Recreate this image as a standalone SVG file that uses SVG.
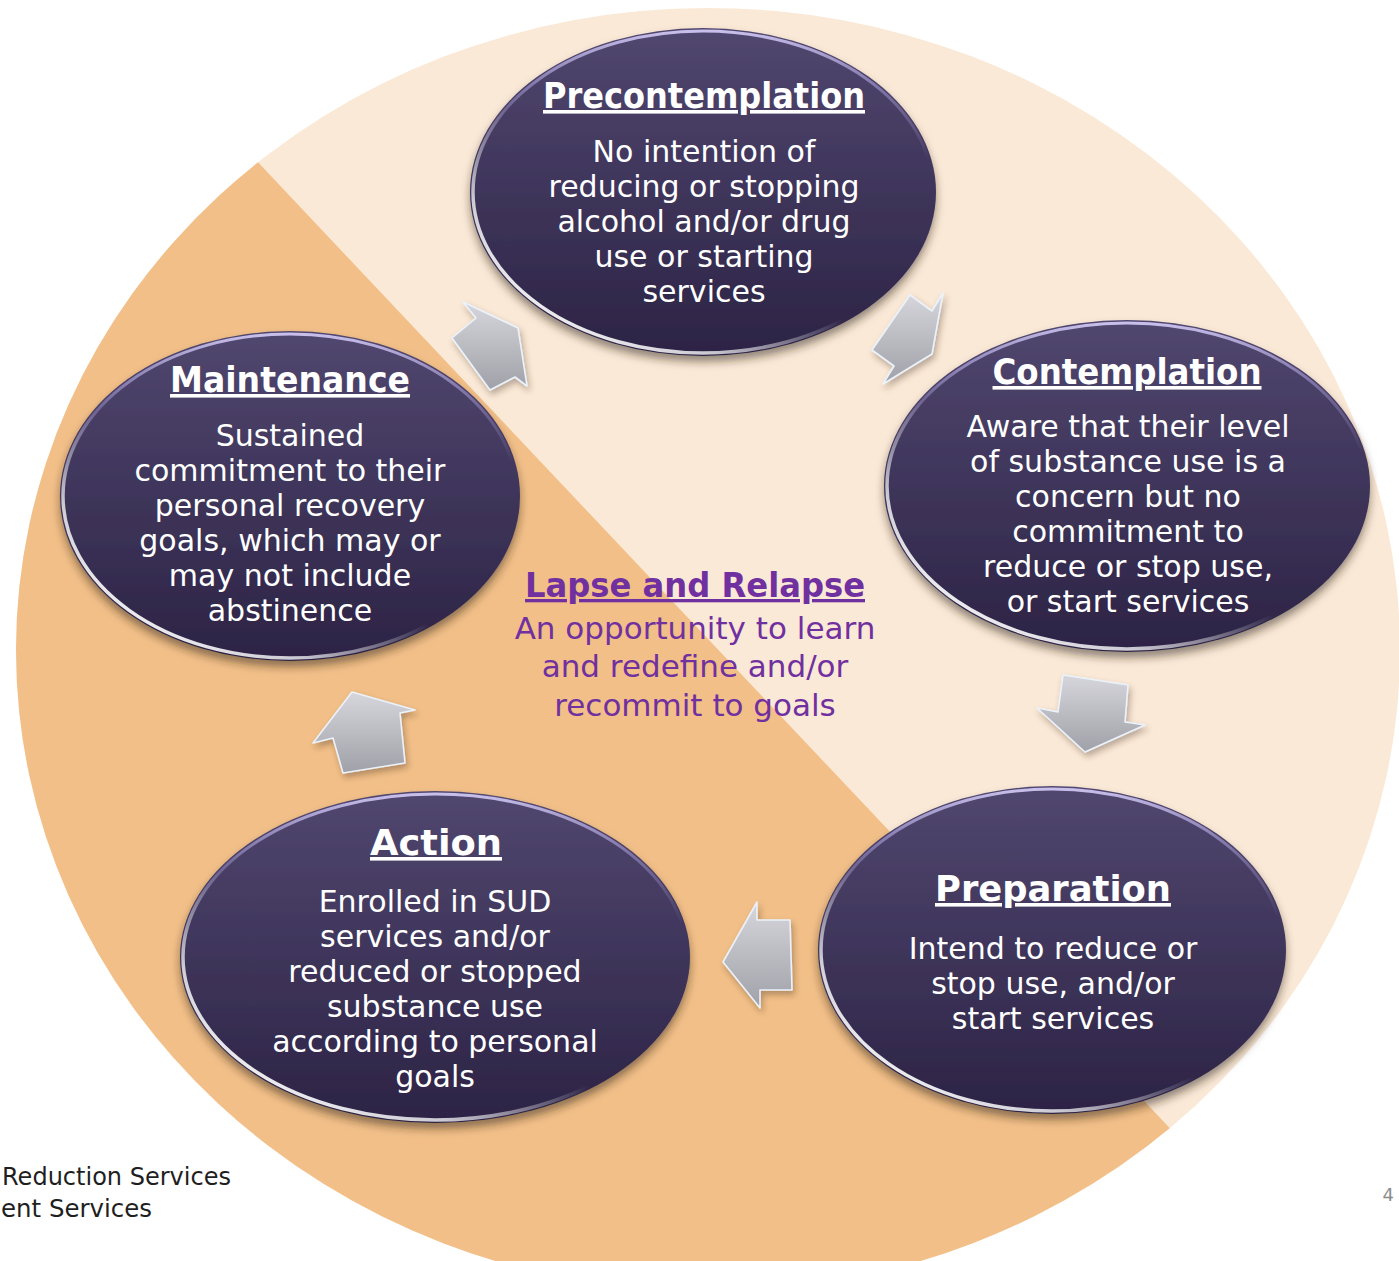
<svg xmlns="http://www.w3.org/2000/svg" width="1399" height="1261" viewBox="0 0 1399 1261">
<defs>
<style>
.body{font-family:"DejaVu Sans","Liberation Sans",sans-serif;font-size:30px;fill:#FFFFFF;text-anchor:middle}
.title{font-family:"DejaVu Sans","Liberation Sans",sans-serif;font-size:36px;font-weight:bold;fill:#FFFFFF;text-anchor:middle;text-decoration:underline}
.lapseT{font-family:"DejaVu Sans","Liberation Sans",sans-serif;font-size:33px;font-weight:bold;fill:#7030A0;text-anchor:middle;text-decoration:underline}
.lapseB{font-family:"DejaVu Sans","Liberation Sans",sans-serif;font-size:31px;fill:#7030A0;text-anchor:middle}
.foot{font-family:"DejaVu Sans","Liberation Sans",sans-serif;font-size:25px;fill:#1F1F1F}
.pnum{font-family:"DejaVu Sans","Liberation Sans",sans-serif;font-size:18px;fill:#8C8C8C;text-anchor:end}
.node{fill:url(#nodeGrad);filter:url(#nshadow)}
.rimT{fill:none;stroke:url(#rimTop);stroke-width:3}
.rimL{fill:none;stroke:url(#rimLeft);stroke-width:3.5}
.arrow{fill:url(#arrowGrad);stroke:#EAF2FC;stroke-width:1.6;stroke-linejoin:round;filter:url(#ashadow)}
</style>
<linearGradient id="nodeGrad" x1="0" y1="0" x2="0" y2="1">
<stop offset="0" stop-color="#51476F"/>
<stop offset="1" stop-color="#2C2345"/>
</linearGradient>
<linearGradient id="rimTop" x1="0" y1="0" x2="0" y2="1">
<stop offset="0" stop-color="#CFC6F2" stop-opacity="0.95"/>
<stop offset="0.2" stop-color="#A89DD8" stop-opacity="0.5"/>
<stop offset="0.4" stop-color="#A89DD8" stop-opacity="0"/>
</linearGradient>
<linearGradient id="rimLeft" x1="0" y1="0.85" x2="0.45" y2="0.35">
<stop offset="0" stop-color="#FFFFFF" stop-opacity="1"/>
<stop offset="0.35" stop-color="#FFFFFF" stop-opacity="0.75"/>
<stop offset="0.75" stop-color="#FFFFFF" stop-opacity="0"/>
</linearGradient>
<linearGradient id="arrowGrad" x1="0" y1="0" x2="0" y2="1">
<stop offset="0" stop-color="#D6D6DC"/>
<stop offset="1" stop-color="#A0A0A8"/>
</linearGradient>
<filter id="nshadow" x="-10%" y="-10%" width="120%" height="130%">
<feDropShadow dx="0" dy="6" stdDeviation="4" flood-color="#2A1E10" flood-opacity="0.5"/>
</filter>
<filter id="ashadow" x="-20%" y="-20%" width="150%" height="150%">
<feDropShadow dx="2" dy="4" stdDeviation="3" flood-color="#3A2A1A" flood-opacity="0.35"/>
</filter>
<clipPath id="bigClip">
<ellipse cx="708" cy="650" rx="692" ry="642"/>
</clipPath>
</defs>

<rect x="0" y="0" width="1399" height="1261" fill="#FFFFFF"/>

<g id="background">
<ellipse cx="708" cy="650" rx="692" ry="642" fill="#FBE9D7"/>
<polygon clip-path="url(#bigClip)" points="100,-5 1400,1372 1400,1400 -10,1400 -10,-5" fill="#F2BF88"/>
</g>

<g id="connectors">
<polygon class="arrow" points="463,302 518,328 527,386 515,377 490,390 452,338 476,318"/>
<polygon class="arrow" points="910,295 932,311 943,293 932,354 883,384 894,366 872,350"/>
<polygon class="arrow" points="1063,675 1128,685 1125,722 1145,725 1085,752 1037,708 1058,712"/>
<polygon class="arrow" points="757,902 757,920 790,920 792,990 760,990 760,1008 723,962"/>
<polygon class="arrow" points="352,692 415,710 400,713 405,763 343,773 333,738 313,743"/>
</g>

<g id="precontemplation">
<ellipse class="node" cx="703" cy="192" rx="233" ry="164"/>
<ellipse class="rimT" cx="703" cy="192" rx="230" ry="161"/>
<ellipse class="rimL" cx="703" cy="192" rx="230" ry="161"/>
<text class="title" x="704" y="108" textLength="322" lengthAdjust="spacingAndGlyphs">Precontemplation</text>
<text class="body" x="704" y="162">No intention of</text>
<text class="body" x="704" y="197">reducing or stopping</text>
<text class="body" x="704" y="232">alcohol and/or drug</text>
<text class="body" x="704" y="267">use or starting</text>
<text class="body" x="704" y="302">services</text>
</g>

<g id="contemplation">
<ellipse class="node" cx="1127" cy="486" rx="243" ry="166"/>
<ellipse class="rimT" cx="1127" cy="486" rx="240" ry="163"/>
<ellipse class="rimL" cx="1127" cy="486" rx="240" ry="163"/>
<text class="title" x="1127" y="384" textLength="269" lengthAdjust="spacingAndGlyphs">Contemplation</text>
<text class="body" x="1128" y="437">Aware that their level</text>
<text class="body" x="1128" y="472">of substance use is a</text>
<text class="body" x="1128" y="507">concern but no</text>
<text class="body" x="1128" y="542">commitment to</text>
<text class="body" x="1128" y="577">reduce or stop use,</text>
<text class="body" x="1128" y="612">or start services</text>
</g>

<g id="preparation">
<ellipse class="node" cx="1052" cy="950" rx="234" ry="164"/>
<ellipse class="rimT" cx="1052" cy="950" rx="231" ry="161"/>
<ellipse class="rimL" cx="1052" cy="950" rx="231" ry="161"/>
<text class="title" x="1053" y="901" textLength="236" lengthAdjust="spacingAndGlyphs">Preparation</text>
<text class="body" x="1053" y="959">Intend to reduce or</text>
<text class="body" x="1053" y="994">stop use, and/or</text>
<text class="body" x="1053" y="1029">start services</text>
</g>

<g id="action">
<ellipse class="node" cx="435" cy="957" rx="255" ry="166"/>
<ellipse class="rimT" cx="435" cy="957" rx="252" ry="163"/>
<ellipse class="rimL" cx="435" cy="957" rx="252" ry="163"/>
<text class="title" x="436" y="855" textLength="132" lengthAdjust="spacingAndGlyphs">Action</text>
<text class="body" x="435" y="912">Enrolled in SUD</text>
<text class="body" x="435" y="947">services and/or</text>
<text class="body" x="435" y="982">reduced or stopped</text>
<text class="body" x="435" y="1017">substance use</text>
<text class="body" x="435" y="1052">according to personal</text>
<text class="body" x="435" y="1087">goals</text>
</g>

<g id="maintenance">
<ellipse class="node" cx="290" cy="496" rx="230" ry="165"/>
<ellipse class="rimT" cx="290" cy="496" rx="227" ry="162"/>
<ellipse class="rimL" cx="290" cy="496" rx="227" ry="162"/>
<text class="title" x="290" y="392" textLength="240" lengthAdjust="spacingAndGlyphs">Maintenance</text>
<text class="body" x="290" y="446">Sustained</text>
<text class="body" x="290" y="481">commitment to their</text>
<text class="body" x="290" y="516">personal recovery</text>
<text class="body" x="290" y="551">goals, which may or</text>
<text class="body" x="290" y="586">may not include</text>
<text class="body" x="290" y="621">abstinence</text>
</g>

<g id="lapse">
<text class="lapseT" x="695" y="597" textLength="340" lengthAdjust="spacingAndGlyphs">Lapse and Relapse</text>
<text class="lapseB" x="695" y="639">An opportunity to learn</text>
<text class="lapseB" x="695" y="677">and redefine and/or</text>
<text class="lapseB" x="695" y="716">recommit to goals</text>
</g>

<g id="footer">
<text class="foot" x="2" y="1185" textLength="229" lengthAdjust="spacingAndGlyphs">Reduction Services</text>
<text class="foot" x="1" y="1217" textLength="151" lengthAdjust="spacingAndGlyphs">ent Services</text>
<text class="pnum" x="1394" y="1201">4</text>
</g>
</svg>
